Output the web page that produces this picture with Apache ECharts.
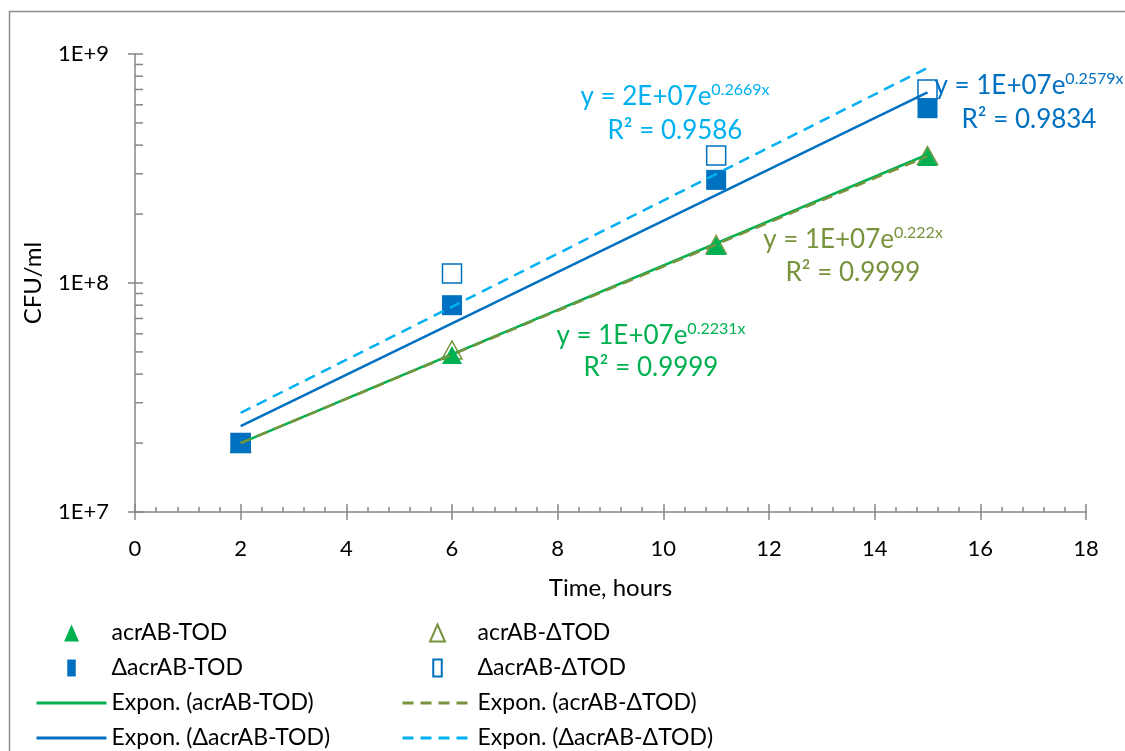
<!DOCTYPE html>
<html>
<head>
<meta charset="utf-8">
<script src="https://cdn.jsdelivr.net/npm/echarts@6/dist/echarts.min.js"></script>
<style>
  html, body { margin: 0; padding: 0; background: #fff; }
  #main { width: 1125px; height: 751px; }
</style>
</head>
<body>
<div id="main"></div>
<script>
// time points (hours)
const hours = [2, 6, 11, 15];
// CFU/ml
const acrABTOD = [2.0e7, 4.85e7, 1.45e8, 3.55e8];
const acrABdTOD = [2.0e7, 5.1e7, 1.47e8, 3.6e8];
const dacrABTOD = [2.0e7, 8.0e7, 2.82e8, 5.8e8];
const dacrABdTOD = [2.0e7, 1.1e8, 3.6e8, 7.0e8];

// exponential trend lines, end points
const trendX = [2, 15];
const trendAcrABTOD = [2.0e7, 3.64e8];
const trendAcrABdTOD = [2.0e7, 3.58e8];
const trendDacrABTOD = [2.37e7, 6.8e8];
const trendDacrABdTOD = [2.71e7, 8.7e8];

// extra tick marks on the log axis
const yMajorTicks = [1e7, 1e8, 1e9];
const yMinorTicks = [2e7, 3e7, 4e7, 5e7, 6e7, 7e7, 8e7, 9e7, 2e8, 3e8, 4e8, 5e8, 6e8, 7e8, 8e8, 9e8];

const GREEN = '#00B050', OLIVE = '#77933C', BLUE = '#0070C0', LBLUE = '#00B0F0';
const AXIS = '#868686';
const FONT = 'Lato';

const zip = (xs, ys) => xs.map((x, i) => [x, ys[i]]);

let myChart = echarts.init(document.getElementById('main'));

function tickItem(len) {
    return function (params, api) {
        const p = api.coord([0, api.value(1)]);
        return {
            type: 'line',
            shape: { x1: p[0], y1: p[1], x2: p[0] + len, y2: p[1] },
            style: { stroke: AXIS, lineWidth: 1.5 }
        };
    };
}

function eqLine(cx, cy, color, base, exp) {
    return {
        type: 'text', x: cx, y: cy, silent: true,
        style: {
            text: '{b|' + base + '}{s|' + exp + '}',
            align: 'center', verticalAlign: 'middle',
            fill: color,
            rich: {
                b: { fontFamily: FONT, fontSize: 26, lineHeight: 30, fill: color },
                s: { fontFamily: FONT, fontSize: 16, lineHeight: 30, verticalAlign: 'top', fill: color }
            }
        }
    };
}
function rLine(cx, cy, color, txt) {
    return {
        type: 'text', x: cx, y: cy, silent: true,
        style: { text: txt, align: 'center', verticalAlign: 'middle', fill: color, fontFamily: FONT, fontSize: 26 }
    };
}

const TRI = 'path://M7,0L14,16L0,16Z';
const BAR = 'path://M0,0H9V18H0Z';
const hideDot = { opacity: 0 };

const legendCommon = {
    orient: 'vertical',
    top: 621,
    height: 200,
    padding: 0,
    itemWidth: 70,
    itemHeight: 17,
    itemGap: 11,
    selectedMode: false,
    lineStyle: { width: 3 },
    textStyle: { fontFamily: FONT, fontSize: 23, color: '#000', lineHeight: 24 }
};

const option = {
    animation: false,
    textStyle: { fontFamily: FONT },
    grid: { left: 135, right: 39, top: 54, bottom: 239 },
    legend: [
        Object.assign({ left: 35, data: [
            { name: 'acrAB-TOD', icon: TRI },
            { name: 'ΔacrAB-TOD', icon: BAR },
            { name: 'Expon. (acrAB-TOD)', itemStyle: hideDot },
            { name: 'Expon. (ΔacrAB-TOD)', itemStyle: hideDot }
        ] }, legendCommon),
        Object.assign({ left: 401, data: [
            { name: 'acrAB-ΔTOD', icon: TRI },
            { name: 'ΔacrAB-ΔTOD', icon: BAR },
            { name: 'Expon. (acrAB-ΔTOD)', itemStyle: hideDot },
            { name: 'Expon. (ΔacrAB-ΔTOD)', itemStyle: hideDot }
        ] }, legendCommon)
    ],
    xAxis: [
        {
            type: 'value', min: 0, max: 18, interval: 2,
            name: 'Time, hours', nameLocation: 'middle', nameGap: 64,
            nameTextStyle: { fontFamily: FONT, fontSize: 24, color: '#000' },
            axisLine: { lineStyle: { color: AXIS, width: 1.5 } },
            axisTick: { show: true, length: 8, lineStyle: { color: AXIS, width: 1.5 } },
            axisLabel: { margin: 26, fontFamily: FONT, fontSize: 22, color: '#000' },
            splitLine: { show: false }
        },
        {
            type: 'value', min: 0, max: 18, interval: 2, position: 'bottom', offset: 0,
            axisLine: { show: false },
            axisTick: { show: true, inside: true, length: 8, lineStyle: { color: AXIS, width: 1.5 } },
            minorTick: { show: true, splitNumber: 5, length: 5, lineStyle: { color: AXIS, width: 1.5 } },
            axisLabel: { show: false },
            splitLine: { show: false }
        }
    ],
    yAxis: {
        type: 'log', logBase: 10, min: 1e7, max: 1e9,
        name: 'CFU/ml', nameLocation: 'middle', nameGap: 90, nameRotate: 90,
        nameTextStyle: { fontFamily: FONT, fontSize: 24, color: '#000' },
        axisLine: { show: true, lineStyle: { color: AXIS, width: 1.5 } },
        axisTick: { show: true, length: 7, lineStyle: { color: AXIS, width: 1.5 } },
        axisLabel: {
            margin: 26, fontFamily: FONT, fontSize: 22, color: '#000',
            formatter: v => '1E+' + Math.round(Math.log10(v))
        },
        splitLine: { show: false }
    },
    graphic: [
        { type: 'rect', shape: { x: 9.5, y: 11.5, width: 1300, height: 900 }, style: { fill: 'none', stroke: '#8c8c8c', lineWidth: 1.5 }, silent: true, z: -10 },
        eqLine(675, 97, LBLUE, 'y = 2E+07e', '0.2669x'),
        rLine(675, 131, LBLUE, 'R² = 0.9586'),
        eqLine(1029, 86, BLUE, 'y = 1E+07e', '0.2579x'),
        rLine(1029, 120, BLUE, 'R² = 0.9834'),
        eqLine(853, 240, OLIVE, 'y = 1E+07e', '0.222x'),
        rLine(853, 273, OLIVE, 'R² = 0.9999'),
        eqLine(651, 336, GREEN, 'y = 1E+07e', '0.2231x'),
        rLine(651, 368, GREEN, 'R² = 0.9999')
    ],
    series: [
        {
            name: 'acrAB-ΔTOD', type: 'scatter', symbol: 'triangle', symbolSize: [20, 18],
            itemStyle: { color: 'rgba(255,255,255,0)', borderColor: OLIVE, borderWidth: 1.5, opacity: 1 },
            data: zip(hours, acrABdTOD)
        },
        {
            name: 'ΔacrAB-ΔTOD', type: 'scatter', symbol: 'rect', symbolSize: 19,
            itemStyle: { color: 'rgba(255,255,255,0)', borderColor: BLUE, borderWidth: 1.5, opacity: 1 },
            data: zip(hours, dacrABdTOD)
        },
        {
            name: 'acrAB-TOD', type: 'scatter', symbol: 'triangle', symbolSize: [20, 18],
            itemStyle: { color: GREEN, opacity: 1 },
            data: zip(hours, acrABTOD)
        },
        {
            name: 'ΔacrAB-TOD', type: 'scatter', symbol: 'rect', symbolSize: 20,
            itemStyle: { color: BLUE, opacity: 1 },
            data: zip(hours, dacrABTOD)
        },
        {
            name: 'Expon. (acrAB-TOD)', type: 'line', symbol: 'none', z: 3,
            lineStyle: { color: GREEN, width: 2.5 }, itemStyle: { color: GREEN },
            data: zip(trendX, trendAcrABTOD)
        },
        {
            name: 'Expon. (acrAB-ΔTOD)', type: 'line', symbol: 'none', z: 3,
            lineStyle: { color: OLIVE, width: 2.5, type: [11, 7] }, itemStyle: { color: OLIVE },
            data: zip(trendX, trendAcrABdTOD)
        },
        {
            name: 'Expon. (ΔacrAB-TOD)', type: 'line', symbol: 'none', z: 3,
            lineStyle: { color: BLUE, width: 2.5 }, itemStyle: { color: BLUE },
            data: zip(trendX, trendDacrABTOD)
        },
        {
            name: 'Expon. (ΔacrAB-ΔTOD)', type: 'line', symbol: 'none', z: 3,
            lineStyle: { color: LBLUE, width: 2.5, type: [11, 7] }, itemStyle: { color: LBLUE },
            data: zip(trendX, trendDacrABdTOD)
        },
        {
            type: 'custom', silent: true, z: 4, clip: false,
            renderItem: tickItem(8),
            data: yMajorTicks.map(v => [0, v])
        },
        {
            type: 'custom', silent: true, z: 4, clip: false,
            renderItem: tickItem(8),
            data: yMinorTicks.map(v => [0, v])
        }
    ]
};
myChart.setOption(option);
</script>
</body>
</html>
